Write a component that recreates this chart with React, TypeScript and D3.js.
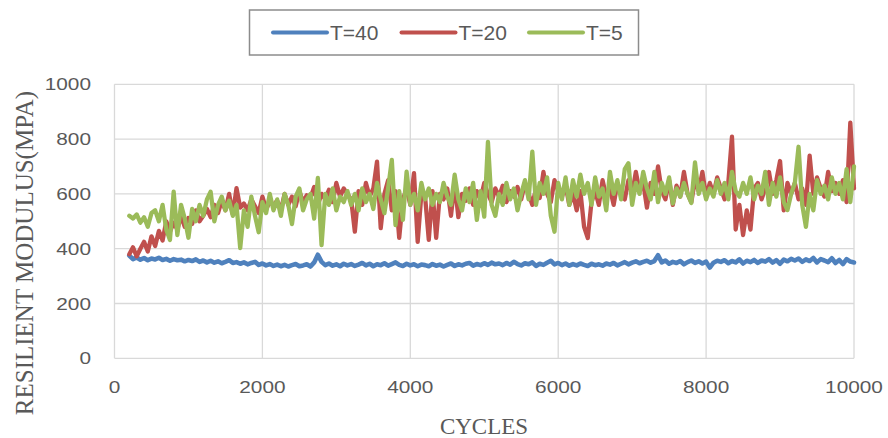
import React from 'react';
import * as d3 from 'd3';

// cycle count of every sample (one reading every 50 cycles)
const cycles: number[] = d3.range(200, 10001, 50);

const t40: number[] = [
  375,362,368,360,366,358,364,361,367,359,363,356,362,358,360,354,359,355,361,352,
  357,350,356,349,354,347,352,358,348,351,345,350,343,348,352,341,346,339,344,337,
  342,336,341,335,340,344,336,339,343,335,350,378,352,340,346,338,343,336,345,339,
  344,337,342,348,339,345,336,343,340,347,338,344,350,341,337,345,339,343,336,342,
  340,336,344,338,342,335,341,346,337,343,339,345,348,338,344,340,347,341,349,343,
  346,340,348,342,352,344,339,347,343,350,337,345,341,349,356,343,348,340,346,338,
  344,339,346,341,337,345,340,343,338,346,342,348,339,345,351,343,349,354,347,352,
  356,349,355,376,350,357,345,352,348,355,343,351,357,348,354,346,353,331,349,356,
  352,358,347,355,350,361,346,356,351,359,348,357,353,362,349,358,345,360,354,363,
  357,364,352,361,355,366,350,362,357,351,365,348,359,344,362,353,350,
];

const t20: number[] = [
  380,405,372,400,425,390,445,410,465,430,500,462,495,470,520,480,512,490,540,500,
  520,545,515,560,530,575,540,600,525,621,550,565,540,580,555,530,590,545,570,560,
  575,540,600,560,590,555,610,570,595,585,625,560,600,580,615,570,640,590,620,600,
  580,462,610,560,640,590,620,718,475,600,650,540,610,440,580,620,560,676,425,600,
  590,432,610,440,600,580,620,520,640,515,600,575,620,560,610,580,640,600,570,620,
  590,630,570,610,590,625,580,640,600,560,620,585,680,600,570,650,610,590,630,560,
  600,540,610,480,439,570,610,560,650,590,620,560,640,600,580,650,600,680,610,640,
  550,640,600,700,610,580,650,560,630,590,680,600,570,650,610,680,590,640,600,660,
  620,580,640,809,470,560,450,540,470,620,640,580,620,680,600,650,720,540,640,600,
  640,580,620,560,740,600,660,620,590,680,610,640,600,650,570,860,620,
];

const t5: number[] = [
  520,510,525,495,515,480,530,540,500,560,470,432,608,450,560,510,440,545,500,560,
  520,580,608,500,560,590,540,575,520,560,402,540,480,590,520,460,570,530,600,540,
  580,520,600,560,490,590,620,540,580,600,510,658,413,600,560,620,540,590,570,610,
  560,600,540,620,570,600,545,640,580,530,620,724,486,610,505,681,560,600,540,640,
  580,620,560,600,570,640,590,560,670,580,540,620,570,640,505,610,517,790,560,520,
  600,560,640,580,620,540,600,650,580,754,560,640,600,660,520,462,640,580,660,560,
  650,590,670,600,640,560,660,590,620,540,680,600,650,580,690,712,560,640,600,680,
  620,580,680,570,640,600,660,565,620,590,640,600,567,715,600,640,580,620,590,650,
  600,640,580,680,610,590,640,600,660,580,630,600,680,560,640,590,660,570,541,600,
  640,772,560,480,600,540,650,600,630,580,660,600,640,580,690,570,700,
];

const seriesNames = ['T=40', 'T=20', 'T=5'];
const seriesColors = ['#4F81BD', '#C0504D', '#9BBB59'];
const seriesValues = [t40, t20, t5];
const seriesWidths = [4.6, 4.3, 4.3];

const xTicks = [0, 2000, 4000, 6000, 8000, 10000];
const yTicks = [0, 200, 400, 600, 800, 1000];

export default function App() {
  const x = d3.scaleLinear().domain([0, 10000]).range([114.5, 854]);
  const y = d3.scaleLinear().domain([0, 1000]).range([358.3, 84.3]);

  const line = d3.line<number>()
    .x((_, i) => x(cycles[i]))
    .y(d => y(d));

  const legendX = [273, 401.5, 529]; // start of each legend swatch

  return (
    <svg width={888} height={438} style={{ position: 'absolute', left: 0, top: 0, background: '#fff' }}>
      {/* grid */}
      {yTicks.map(t => (
        <line key={'gy' + t} x1={x(0)} x2={x(10000)} y1={y(t)} y2={y(t)} stroke="#D9D9D9" strokeWidth={1.3} />
      ))}
      {xTicks.map(t => (
        <line key={'gx' + t} x1={x(t)} x2={x(t)} y1={y(0)} y2={y(1000)} stroke="#D9D9D9" strokeWidth={1.3} />
      ))}

      {/* lines */}
      {seriesValues.map((vals, i) => (
        <path key={seriesNames[i]} d={line(vals) || ''} fill="none" stroke={seriesColors[i]}
          strokeWidth={seriesWidths[i]} strokeLinejoin="round" strokeLinecap="round" />
      ))}

      {/* tick labels, a bit stretched like the source */}
      {yTicks.map(t => (
        <text key={'ly' + t} transform={`translate(91,${y(t) + 6}) scale(1.3,1)`} textAnchor="end"
          fontFamily="Liberation Sans, Arial, sans-serif" fontSize={16} fill="#595959">{t}</text>
      ))}
      {xTicks.map(t => (
        <text key={'lx' + t} transform={`translate(${x(t)},393) scale(1.3,1)`} textAnchor="middle"
          fontFamily="Liberation Sans, Arial, sans-serif" fontSize={16} fill="#595959">{t}</text>
      ))}

      {/* axis titles */}
      <text x={484} y={434} textAnchor="middle" fontFamily="Liberation Serif, Times New Roman, serif"
        fontSize={23} fill="#595959">CYCLES</text>
      <text transform="translate(33,253) rotate(-90)" textAnchor="middle"
        fontFamily="Liberation Serif, Times New Roman, serif" fontSize={25} fill="#595959">RESILIENT MODULUS(MPA)</text>

      {/* legend */}
      <rect x={249.5} y={10} width={389} height={45} fill="#fff" stroke="#8C8C8C" strokeWidth={1.5} />
      {seriesNames.map((name, i) => (
        <g key={'lg' + name}>
          <line x1={legendX[i]} x2={legendX[i] + 54} y1={32.5} y2={32.5} stroke={seriesColors[i]}
            strokeWidth={4} strokeLinecap="round" />
          <text x={legendX[i] + 57} y={40} fontFamily="Liberation Sans, Arial, sans-serif" fontSize={21}
            fill="#595959">{name}</text>
        </g>
      ))}
    </svg>
  );
}
